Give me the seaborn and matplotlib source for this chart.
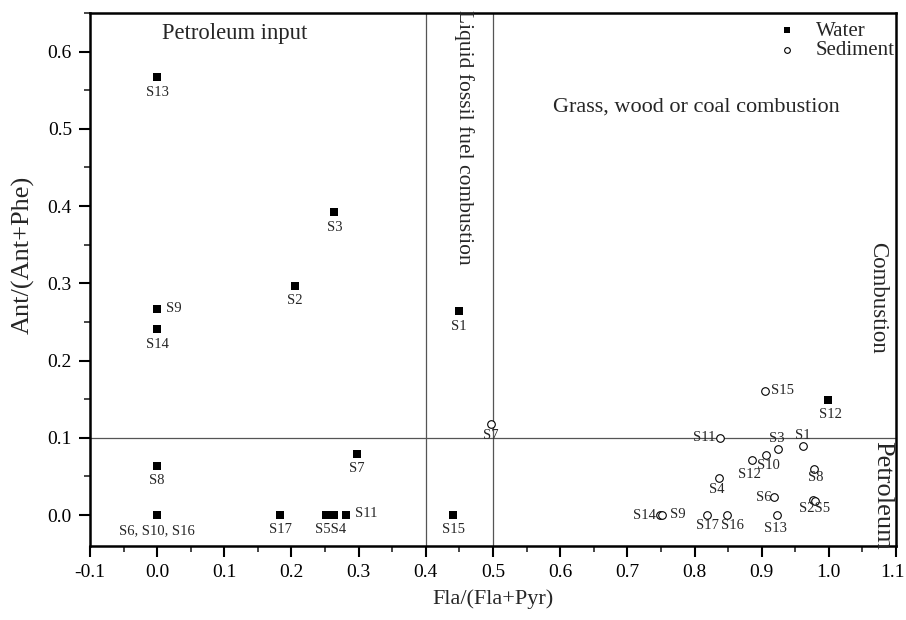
import matplotlib
matplotlib.use("Agg")
import matplotlib.pyplot as plt
import matplotlib.transforms as mtransforms
import seaborn as sns
import pandas as pd
from matplotlib.ticker import MultipleLocator

sns.set_style("ticks")
plt.rcParams['font.family'] = ['Liberation Serif', 'DejaVu Serif']

# Water samples
water_names = ["S13", "S3", "S2", "S9", "S14", "S1", "S12", "S7", "S8",
               "S6, S10, S16", "S17", "S5", "S4", "S11", "S15"]
water_x = [0.0, 0.264, 0.205, 0.0, 0.0, 0.449, 0.998, 0.297, 0.0,
           0.0, 0.183, 0.252, 0.264, 0.281, 0.441]
water_y = [0.567, 0.392, 0.297, 0.267, 0.241, 0.264, 0.149, 0.079, 0.063,
           0.0, 0.0, 0.0, 0.0, 0.0, 0.0]

# Sediment samples
sed_names = ["S15", "S11", "S7", "S3", "S1", "S10", "S12", "S4", "S8",
             "S6", "S2", "S5", "S14", "S9", "S17", "S16", "S13"]
sed_x = [0.905, 0.838, 0.497, 0.925, 0.961, 0.906, 0.885, 0.836, 0.978,
         0.919, 0.976, 0.980, 0.748, 0.752, 0.818, 0.848, 0.923]
sed_y = [0.161, 0.100, 0.118, 0.085, 0.089, 0.078, 0.071, 0.048, 0.060,
         0.023, 0.019, 0.018, 0.0, 0.0, 0.0, 0.0, 0.0]

x_ticks = [-0.1, 0.0, 0.1, 0.2, 0.3, 0.4, 0.5, 0.6, 0.7, 0.8, 0.9, 1.0, 1.1]
x_ticklabels = ["-0.1", "0.0", "0.1", "0.2", "0.3", "0.4", "0.5", "0.6", "0.7",
                "0.8", "0.9", "1.0", "1.1"]
y_ticks = [0.0, 0.1, 0.2, 0.3, 0.4, 0.5, 0.6]
y_ticklabels = ["0.0", "0.1", "0.2", "0.3", "0.4", "0.5", "0.6"]

water_df = pd.DataFrame({"x": water_x, "y": water_y, "name": water_names})
sed_df = pd.DataFrame({"x": sed_x, "y": sed_y, "name": sed_names})

fig = plt.figure(figsize=(9.06, 6.2), dpi=100)
ax = fig.add_axes([0.0993, 0.1194, 0.8897, 0.8596])

ax.axvline(0.4, color="#555555", lw=0.9, zorder=1)
ax.axvline(0.5, color="#555555", lw=0.9, zorder=1)
ax.axhline(0.1, color="#555555", lw=0.9, zorder=1)

sns.scatterplot(data=water_df, x="x", y="y", marker="s", s=28, color="black",
                edgecolor="black", linewidth=0, ax=ax, label="Water", zorder=3)
sns.scatterplot(data=sed_df, x="x", y="y", marker="o", s=30, facecolor="white",
                edgecolor="black", linewidth=0.8, ax=ax, label="Sediment", zorder=3)

fs = 10.5
# water label offsets (points)
water_off = {
    "S13": (0, -11, "center"), "S3": (0, -11, "center"), "S2": (0, -11, "center"),
    "S9": (6.5, 0, "left"), "S14": (0, -11, "center"), "S1": (0, -11, "center"),
    "S12": (2, -10.5, "center"), "S7": (0, -10.5, "center"), "S8": (0, -10.5, "center"),
    "S6, S10, S16": (0, -11.5, "center"), "S17": (0, -10.5, "center"),
    "S11": (6.5, 1, "left"), "S15": (0, -10.5, "center"),
}
for n, x, y in zip(water_names, water_x, water_y):
    if n in water_off:
        dx, dy, ha = water_off[n]
        ax.annotate(n, (x, y), xytext=(dx, dy), textcoords="offset points",
                    ha=ha, va="center", fontsize=fs)
# combined label for S5 & S4
ax.annotate("S5S4", ((water_x[11] + water_x[12]) / 2, 0.0), xytext=(0, -10.5),
            textcoords="offset points", ha="center", va="center", fontsize=fs)

sed_off = {
    "S15": (4.3, 0, "left"), "S11": (-3.6, 0, "right"), "S7": (0, -8.6, "center"),
    "S3": (-1, 8, "center"), "S1": (0, 8, "center"), "S10": (2.2, -8, "center"),
    "S12": (-1.8, -10, "center"), "S4": (-1.2, -8, "center"), "S8": (1, -6, "center"),
    "S6": (-2.2, 0, "right"), "S14": (-2.9, 0, "right"), "S9": (5.8, 0.7, "left"),
    "S17": (0.7, -7.2, "center"), "S16": (4, -7.2, "center"), "S13": (-1, -10, "center"),
}
for n, x, y in zip(sed_names, sed_x, sed_y):
    if n in sed_off:
        dx, dy, ha = sed_off[n]
        ax.annotate(n, (x, y), xytext=(dx, dy), textcoords="offset points",
                    ha=ha, va="center", fontsize=fs)
ax.annotate("S2S5", ((sed_x[10] + sed_x[11]) / 2, sed_y[10]), xytext=(0, -6),
            textcoords="offset points", ha="center", va="center", fontsize=fs)

ax.text(0.115, 0.623, "Petroleum input", fontsize=16.3, ha="center", va="center")
ax.text(0.457, 0.654, "Liquid fossil fuel combustion", fontsize=15.5, rotation=270,
        ha="center", va="top")
ax.text(0.803, 0.528, "Grass, wood or coal combustion", fontsize=16,
        ha="center", va="center")
ax.text(1.072, 0.281, "Combustion", fontsize=16.5, rotation=270, ha="center", va="center")
ax.text(1.08, 0.026, "Petroleum", fontsize=19, rotation=270, ha="center", va="center")

ax.set_xlim(-0.1, 1.1)
ax.set_ylim(-0.04, 0.65)
ax.xaxis.set_minor_locator(MultipleLocator(0.05))
ax.yaxis.set_minor_locator(MultipleLocator(0.05))
ax.set_xticks(x_ticks)
ax.set_xticklabels(x_ticklabels)
ax.set_yticks(y_ticks)
ax.set_yticklabels(y_ticklabels)
ax.tick_params(which="major", direction="out", length=8, width=1.5, labelsize=14,
               colors="black", pad=5)
ax.tick_params(which="minor", direction="out", length=4, width=1.2)
for sp in ax.spines.values():
    sp.set_linewidth(1.8)
    sp.set_color("black")

# nudge the last x tick label so it stays inside the canvas
last = ax.get_xticklabels()[-1]
last.set_transform(last.get_transform() +
                   mtransforms.ScaledTranslation(-4 / 100, 0, fig.dpi_scale_trans))

ax.set_xlabel("Fla/(Fla+Pyr)", fontsize=16, labelpad=6)
ax.set_ylabel("Ant/(Ant+Phe)", fontsize=19)
ax.yaxis.set_label_coords(-0.068, 0.546)

leg = ax.legend(loc="upper right", frameon=False, fontsize=15, handletextpad=0.8,
                borderaxespad=0, borderpad=0, markerscale=0.75, labelspacing=0.0,
                handlelength=1.2,
                bbox_to_anchor=(895 / 906, (620 - 21) / 620),
                bbox_transform=fig.transFigure)

fig.savefig("out.png", dpi=100)
